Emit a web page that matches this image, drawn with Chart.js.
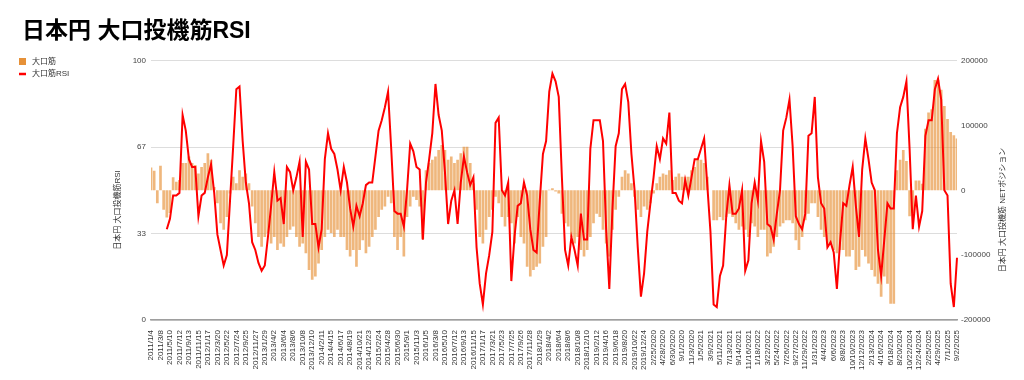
<!DOCTYPE html>
<html><head><meta charset="utf-8">
<script src="https://cdn.jsdelivr.net/npm/chart.js@4"></script>
<style>html,body{margin:0;padding:0;background:#fff;}#wrap{width:1024px;height:380px;}</style>
</head><body><div id="wrap"><canvas id="c" width="1024" height="380"></canvas></div>
<script>
const tickLabels = ['2011/1/4','2011/3/8','2011/5/10','2011/7/12','2011/9/13','2011/11/15',
'2012/1/17','2012/3/20','2012/5/22','2012/7/24','2012/9/25','2012/11/27',
'2013/1/29','2013/4/2','2013/6/4','2013/8/6','2013/10/8','2013/12/10',
'2014/2/11','2014/4/15','2014/6/17','2014/8/19','2014/10/21','2014/12/23',
'2015/2/24','2015/4/28','2015/6/30','2015/9/1','2015/11/3',
'2016/1/5','2016/3/8','2016/5/10','2016/7/12','2016/9/13','2016/11/15',
'2017/1/17','2017/3/21','2017/5/23','2017/7/25','2017/9/26','2017/11/28',
'2018/1/29','2018/4/2','2018/6/4','2018/8/6','2018/10/8','2018/12/10',
'2019/2/12','2019/4/16','2019/6/18','2019/8/20','2019/10/22','2019/12/24',
'2/25/2020','4/28/2020','6/30/2020','9/1/2020','11/3/2020',
'1/5/2021','3/9/2021','5/11/2021','7/13/2021','9/14/2021','11/16/2021',
'1/18/2022','3/22/2022','5/24/2022','7/26/2022','9/27/2022','11/29/2022',
'1/31/2023','4/4/2023','6/6/2023','8/8/2023','10/10/2023','12/12/2023',
'2/13/2024','4/16/2024','6/18/2024','8/20/2024','10/22/2024','12/24/2024',
'2/25/2025','4/29/2025','7/1/2025','9/2/2025'];

// 大口筋RSI (3-week samples)
const rsi = [null,null,null,null,null,35,39,48,48,49,
79,73,62,59,59,40,48,49,55,60,
49,33,27,21,25,46,67,89,90,69,
53,45,30,27,22,19,21,32,44,57,
46,47,37,59,57,50,55,61,32,61,
58,37,37,28,35,62,72,66,64,58,
50,59,53,43,36,44,40,45,52,53,
53,63,73,77,82,88,66,42,41,41,
36,50,68,65,59,58,31,53,62,72,
91,79,73,57,37,46,50,37,53,63,
57,52,55,28,14,6,18,25,34,76,
78,50,48,53,15,32,44,45,53,48,
35,27,26,46,64,69,88,95,92,86,
55,27,21,32,27,21,41,31,31,66,
77,77,77,69,35,12,43,67,72,89,
91,84,64,50,28,9,18,34,45,55,
67,62,70,68,80,49,49,46,45,54,
48,55,62,62,66,70,52,34,6,5,
17,21,40,52,41,41,43,50,19,23,
45,53,46,69,61,37,36,31,41,50,
73,78,85,67,40,37,35,41,71,72,
86,55,45,43,28,30,26,12,30,45,
44,52,59,44,32,58,70,62,53,50,
27,17,31,45,43,43,72,82,86,92,
66,35,48,36,42,71,77,77,89,93,
85,50,48,14,5,24];

// 大口筋 NETポジション
const netPos = [35000,30000,-20000,38000,-30000,-42000,-35000,20000,13000,16000,
42000,42000,52000,42000,39000,26000,36000,42000,57000,47000,
5000,-20000,-51000,-61000,-41000,-5000,21000,11000,31000,21000,
26000,11000,-25000,-51000,-72000,-87000,-72000,-66000,-82000,-72000,
-92000,-82000,-87000,-72000,-61000,-56000,-72000,-87000,-82000,-97000,
-123000,-138000,-133000,-113000,-92000,-72000,-61000,-66000,-72000,-61000,
-72000,-72000,-92000,-102000,-92000,-118000,-92000,-77000,-97000,-87000,
-72000,-61000,-41000,-30000,-25000,-10000,-20000,-72000,-92000,-72000,
-102000,-41000,-25000,-10000,-15000,-25000,-75000,31000,42000,47000,
52000,62000,70000,62000,47000,52000,42000,47000,57000,67000,
67000,42000,11000,-30000,-72000,-82000,-61000,-41000,-30000,-10000,
-20000,-41000,-56000,-41000,-51000,-82000,-41000,-72000,-82000,-118000,
-133000,-123000,-118000,-113000,-87000,-72000,1000,3000,-2000,-5000,
-36000,-51000,-56000,-72000,-82000,-72000,-92000,-102000,-92000,-72000,
-51000,-36000,-41000,-61000,-82000,-102000,-61000,-30000,-10000,21000,
31000,26000,11000,-10000,-30000,-41000,-25000,-30000,-20000,-5000,
11000,21000,26000,24000,31000,16000,21000,26000,21000,21000,
21000,31000,36000,47000,47000,42000,21000,0,-46000,-46000,
-41000,-46000,-41000,-36000,-41000,-51000,-61000,-56000,-61000,-72000,
-51000,-56000,-72000,-61000,-61000,-102000,-97000,-87000,-72000,-56000,
-51000,-46000,-46000,-51000,-77000,-92000,-72000,-46000,-36000,-20000,
-20000,-41000,-61000,-72000,-82000,-82000,-92000,-97000,-92000,-92000,
-102000,-102000,-92000,-123000,-118000,-92000,-102000,-113000,-123000,-133000,
-144000,-164000,-133000,-144000,-175000,-175000,31000,47000,62000,45000,
-40000,-35000,15000,15000,10000,95000,120000,125000,170000,170000,
155000,130000,110000,90000,85000,80000];

const categories = rsi.map((v, i) => (i % 3 === 0 ? tickLabels[i / 3] : ''));

const FONT = "'Liberation Sans', 'Noto Sans CJK JP', sans-serif";
Chart.defaults.font.family = FONT;

const extras = {
  id: 'extras',
  afterDraw(chart) {
    const ctx = chart.ctx;
    ctx.save();
    ctx.fillStyle = '#e69138';
    ctx.fillRect(19, 58, 7, 7);
    ctx.strokeStyle = '#ff0000';
    ctx.lineWidth = 2.5;
    ctx.beginPath(); ctx.moveTo(19, 74); ctx.lineTo(26, 74); ctx.stroke();
    ctx.fillStyle = '#333';
    ctx.font = '8px ' + FONT;
    ctx.textBaseline = 'middle';
    ctx.textAlign = 'left';
    ctx.fillText('大口筋', 32, 61.5);
    ctx.fillText('大口筋RSI', 32, 74);
    ctx.textAlign = 'center';
    ctx.translate(118, 210);
    ctx.rotate(-Math.PI / 2);
    ctx.fillText('日本円 大口投機筋RSI', 0, 0);
    ctx.restore();
    ctx.save();
    ctx.fillStyle = '#333';
    ctx.font = '8px ' + FONT;
    ctx.textBaseline = 'middle';
    ctx.textAlign = 'center';
    ctx.translate(1003, 210);
    ctx.rotate(-Math.PI / 2);
    ctx.fillText('日本円 大口投機筋 NETポジション', 0, 0);
    ctx.restore();
  }
};

new Chart(document.getElementById('c'), {
  type: 'bar',
  data: {
    labels: categories,
    datasets: [
      { type: 'line', label: '大口筋RSI', data: rsi, yAxisID: 'y', borderColor: '#ff0000',
        backgroundColor: '#ff0000', borderWidth: 2, pointRadius: 0, tension: 0, order: 0 },
      { type: 'bar', label: '大口筋', data: netPos, yAxisID: 'y2',
        backgroundColor: 'rgba(230,145,56,0.65)', barPercentage: 0.85, categoryPercentage: 1, order: 1 }
    ]
  },
  options: {
    responsive: false,
    devicePixelRatio: 1,
    animation: false,
    layout: { padding: { left: 22, right: 0, top: 0, bottom: 0 } },
    plugins: {
      legend: { display: false },
      tooltip: { enabled: false },
      title: { display: true, text: '日本円 大口投機筋RSI', align: 'start', color: '#000',
        font: { size: 23, weight: 'bold', family: FONT }, padding: { top: 18, bottom: 15 } }
    },
    scales: {
      x: {
        type: 'category', offset: false,
        grid: { display: false },
        border: { display: true, color: '#9e9e9e', width: 1.5 },
        ticks: { autoSkip: false, maxRotation: 90, minRotation: 90, padding: 2,
          font: { size: 8 }, color: '#333', callback: (v, i) => categories[i] },
        afterFit: s => { s.height = 60; }
      },
      y: {
        position: 'left', min: 0, max: 100,
        afterBuildTicks: s => { s.ticks = [0, 100 / 3, 200 / 3, 100].map(v => ({ value: v })); },
        ticks: { callback: v => String(Math.round(v)), font: { size: 8 }, color: '#444', padding: 5 },
        grid: { color: '#dddddd', drawTicks: false },
        border: { display: false },
        afterFit: s => { s.width = 129; }
      },
      y2: {
        position: 'right', min: -200000, max: 200000,
        ticks: { stepSize: 100000, font: { size: 8 }, color: '#444', padding: 4,
          callback: v => String(v) },
        grid: { display: false, drawTicks: false },
        border: { display: false },
        afterFit: s => { s.width = 67; }
      }
    }
  },
  plugins: [extras]
});
</script>
</body></html>
